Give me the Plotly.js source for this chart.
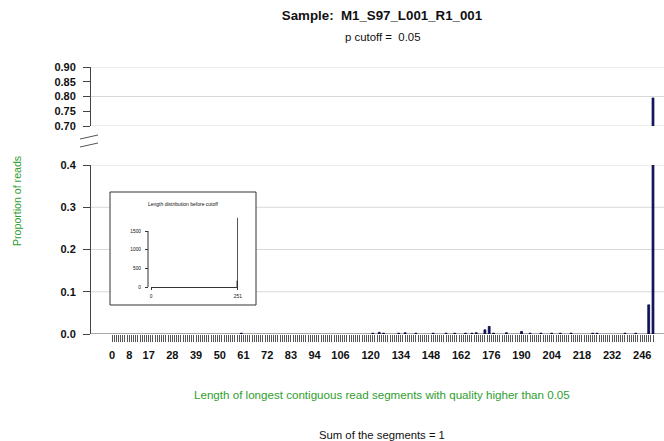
<!DOCTYPE html>
<html>
<head>
<meta charset="utf-8">
<script src="https://cdn.plot.ly/plotly-3.0.1.min.js"></script>
<style>html,body{margin:0;padding:0;background:#fff;}#chart{width:664px;height:441px;}</style>
</head>
<body>
<div id="chart"></div>
<script>
// ---- data ----
const segLengths = [60,121,124,126,133,136,141,149,155,159,164,167,169,173,175,177,183,190,194,199,204,208,213,223,225,238,243,249,251];
const proportions = [0.002,0.002,0.004,0.002,0.002,0.003,0.002,0.002,0.002,0.002,0.002,0.002,0.003,0.010,0.018,0.002,0.003,0.006,0.002,0.002,0.002,0.002,0.002,0.002,0.002,0.002,0.002,0.069,0.795];
const xTickVals = [0,8,17,28,39,50,61,72,83,94,106,120,134,148,162,176,190,204,218,232,246];
const xTickText = ["0","8","17","28","39","50","61","72","83","94","106","120","134","148","162","176","190","204","218","232","246"];
const yLowVals = [0,0.1,0.2,0.3,0.4];
const yLowText = ["0.0","0.1","0.2","0.3","0.4"];
const yHighVals = [0.70,0.75,0.80,0.85,0.90];
const yHighText = ["0.70","0.75","0.80","0.85","0.90"];
const insetLengths = [249,251];
const insetCounts = [165,1850];
const insetYVals = [0,500,1000,1500];
const insetYText = ["0","500","1000","1500"];
const insetXVals = [0,251];
const insetXText = ["0","251"];

// ---- geometry helpers (pixel -> paper) ----
const L = 90, T = 67, W = 574, H = 267;
const px = x => (x - L) / W;
const py = y => (T + H - y) / H;

const FONT = "Liberation Sans, Arial, sans-serif";
const GREEN = "#2e9e2e";
const NAVY = "#12127a";

const barStyle = {color: NAVY, line: {color: "#05053a", width: 0.8}};

const traces = [
  {type: "bar", x: segLengths, y: proportions, xaxis: "x", yaxis: "y", width: 0.85, marker: barStyle, hoverinfo: "x+y"},
  {type: "bar", x: segLengths, y: proportions, xaxis: "x2", yaxis: "y2", width: 0.85, marker: barStyle, hoverinfo: "x+y"},
  {type: "bar", x: insetLengths, y: insetCounts, xaxis: "x3", yaxis: "y3", width: 0.9, marker: {color: "#222", line: {color: "#222", width: 0.6}}, hoverinfo: "x+y"}
];

const gridColor = "#d8d8d8";
const shapes = [];
function hline(yref, y, x0, x1, color, width) {
  shapes.push({type: "line", xref: "paper", yref: yref, x0: x0, x1: x1, y0: y, y1: y, layer: "below", line: {color: color, width: width}});
}
// top panel grid
[0.70, 0.80, 0.90].forEach(v => hline("y2", v, 0, 1, gridColor, 1));
// bottom panel grid (interrupted by the inset box)
const boxL = px(110), boxR = px(256);
[0.1, 0.2, 0.3].forEach(v => { hline("y", v, 0, boxL, gridColor, 1); hline("y", v, boxR, 1, gridColor, 1); });
hline("y", 0.4, 0, 1, gridColor, 1);
hline("y", 0, 0, 1, "#555", 1);
// inset box
shapes.push({type: "rect", xref: "paper", yref: "paper", x0: boxL, x1: boxR, y0: py(305), y1: py(192), line: {color: "#333", width: 1}, layer: "above"});
// inset y-axis line
shapes.push({type: "line", xref: "paper", yref: "y3", x0: px(148), x1: px(148), y0: 0, y1: 1500, line: {color: "#333", width: 1}});
// axis break marks
shapes.push({type: "line", xref: "paper", yref: "paper", x0: px(80), x1: px(98), y0: py(139), y1: py(135), line: {color: "#555", width: 1}});
shapes.push({type: "line", xref: "paper", yref: "paper", x0: px(80), x1: px(98), y0: py(147), y1: py(143), line: {color: "#555", width: 1}});

const annotations = [
  {text: "p cutoff =  0.05", xref: "paper", yref: "paper", x: px(382), y: py(37), showarrow: false, font: {family: FONT, size: 11.4, color: "#111"}, xanchor: "center", yanchor: "middle"},
  {text: "Length of longest contiguous read segments with quality higher than 0.05", xref: "paper", yref: "paper", x: px(382), y: py(394), showarrow: false, font: {family: FONT, size: 11.6, color: GREEN}, xanchor: "center", yanchor: "middle"},
  {text: "Sum of the segments = 1", xref: "paper", yref: "paper", x: px(382), y: py(435), showarrow: false, font: {family: FONT, size: 11.3, color: "#111"}, xanchor: "center", yanchor: "middle"},
  {text: "Proportion of reads", xref: "paper", yref: "paper", x: px(17), y: py(201), showarrow: false, textangle: -90, font: {family: FONT, size: 10.6, color: GREEN}, xanchor: "center", yanchor: "middle"},
  {text: "Length distribution before cutoff", xref: "paper", yref: "paper", x: px(183), y: py(204), showarrow: false, font: {family: FONT, size: 5, color: "#111"}, xanchor: "center", yanchor: "middle"}
];

const tickFont = {family: FONT, size: 11, color: "#111", weight: "bold"};

// main x scale: bar 0 at pixel 112, bar 251 at pixel 653
const pxPerUnit = (653 - 112) / 251;
const xDomPx = [110, 655];
const xRange = [(xDomPx[0] - 112) / pxPerUnit, (xDomPx[1] - 112) / pxPerUnit];

const layout = {
  width: 664, height: 441,
  margin: {l: L, r: 664 - L - W, t: T, b: 441 - T - H, pad: 0},
  paper_bgcolor: "#fff", plot_bgcolor: "rgba(0,0,0,0)",
  showlegend: false, bargap: 0,
  title: {text: "Sample:\u00a0 M1_S97_L001_R1_001", font: {family: FONT, size: 13.3, color: "#111", weight: "bold"}, xref: "paper", x: px(382), xanchor: "center", yref: "container", y: 1 - 15 / 441, yanchor: "middle"},
  xaxis: {
    domain: [px(xDomPx[0]), px(xDomPx[1])], anchor: "y", range: xRange,
    tickmode: "array", tickvals: xTickVals, ticktext: xTickText,
    ticks: "outside", ticklen: 7, tickcolor: "#555", tickwidth: 1, ticklabelstandoff: 4,
    minor: {tickmode: "linear", tick0: 0, dtick: 1, ticks: "outside", ticklen: 7, tickcolor: "#555", tickwidth: 1, showgrid: false},
    showline: false, showgrid: false, zeroline: false, tickfont: tickFont, fixedrange: true
  },
  yaxis: {
    domain: [0, py(165)], anchor: "free", position: 0, range: [0, 0.4],
    tickmode: "array", tickvals: yLowVals, ticktext: yLowText,
    ticks: "outside", ticklen: 7, tickcolor: "#444", showline: true, linecolor: "#444", linewidth: 1,
    showgrid: false, zeroline: false, tickfont: tickFont, ticklabelstandoff: 5
  },
  xaxis2: {domain: [px(xDomPx[0]), px(xDomPx[1])], anchor: "y2", matches: "x", range: xRange, visible: false},
  yaxis2: {
    domain: [py(126), 1], anchor: "free", position: 0, range: [0.70, 0.90],
    tickmode: "array", tickvals: yHighVals, ticktext: yHighText,
    ticks: "outside", ticklen: 7, tickcolor: "#444", showline: true, linecolor: "#444", linewidth: 1,
    showgrid: false, zeroline: false, tickfont: tickFont, ticklabelstandoff: 5
  },
  xaxis3: {
    domain: [px(151), px(238)], anchor: "y3", range: [-0.5, 251.5],
    tickmode: "array", tickvals: insetXVals, ticktext: insetXText,
    ticks: "outside", ticklen: 2, tickcolor: "#333", showline: true, linecolor: "#333", linewidth: 1,
    showgrid: false, zeroline: false, tickfont: {family: FONT, size: 4.8, color: "#111"}, ticklabelstandoff: 2
  },
  yaxis3: {
    domain: [py(287), py(215)], anchor: "free", position: px(148),
    range: [0, 1500 * 72 / 56],
    tickmode: "array", tickvals: insetYVals, ticktext: insetYText,
    ticks: "outside", ticklen: 3, tickcolor: "#333", showline: false,
    showgrid: false, zeroline: false, tickfont: {family: FONT, size: 4.8, color: "#111"}, ticklabelstandoff: 3
  },
  shapes: shapes,
  annotations: annotations
};

Plotly.newPlot("chart", traces, layout, {displayModeBar: false, staticPlot: true});
</script>
</body>
</html>
